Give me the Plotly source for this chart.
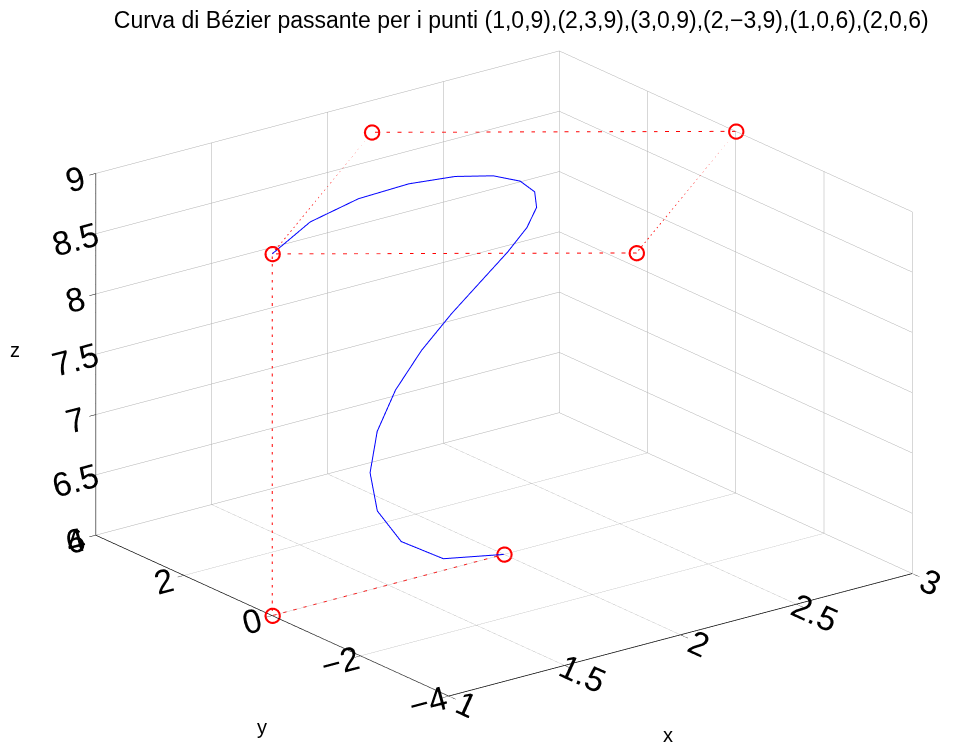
import plotly.graph_objects as go

# Control polygon (as drawn, with (1,0,9) revisited)
ctrl_x = [1, 2, 3, 2, 1, 1, 2]
ctrl_y = [0, 3, 0, -3, 0, 0, 0]
ctrl_z = [9, 9, 9, 9, 9, 6, 6]

# Bezier curve samples (21 points)
curve_x = [1.0, 1.295364, 1.565705, 1.793154, 1.96672, 2.0813, 2.136745, 2.137,
           2.08928, 2.003309, 1.890625, 1.763925, 1.63648, 1.521598, 1.432145,
           1.380129, 1.37632, 1.429964, 1.548505, 1.737406, 2.0]
curve_y = [0.0, 0.689973, 1.019142, 1.073646, 0.933888, 0.672363, 0.351918, 0.02451,
           -0.269568, -0.501993, -0.65625, -0.726972, -0.718848, -0.645021, -0.525042,
           -0.382323, -0.241152, -0.123198, -0.043578, -0.006424, 0.0]
curve_z = [9.0, 8.999995, 8.999835, 8.998806, 8.9952, 8.986083, 8.967195, 8.933034,
           8.87712, 8.792406, 8.671875, 8.509296, 8.30016, 8.04276, 7.739475,
           7.398192, 7.03392, 6.670545, 6.342795, 6.098322, 6.0]

x_ticks = [1, 1.5, 2, 2.5, 3]
y_ticks = [-4, -2, 0, 2, 4]
z_ticks = [6, 6.5, 7, 7.5, 8, 8.5, 9]

title_text = "Curva di Bézier passante per i punti (1,0,9),(2,3,9),(3,0,9),(2,−3,9),(1,0,6),(2,0,6)"

FONT = "Liberation Sans"

fig = go.Figure()
fig.add_trace(go.Scatter3d(
    x=ctrl_x, y=ctrl_y, z=ctrl_z, mode="lines",
    line=dict(color="#ff0000", width=2, dash="dot"),
    showlegend=False, hoverinfo="skip"))
fig.add_trace(go.Scatter3d(
    x=curve_x, y=curve_y, z=curve_z, mode="lines",
    line=dict(color="#0000ff", width=2), showlegend=False, hoverinfo="skip"))
fig.add_trace(go.Scatter3d(
    x=ctrl_x, y=ctrl_y, z=ctrl_z, mode="markers",
    marker=dict(symbol="circle-open", size=9, color="#ff0000", line=dict(width=1.5, color="#ff0000")),
    showlegend=False, hoverinfo="skip"))

def ax(rng, ticks, ticklen=8):
    return dict(
        title=dict(text=""),
        range=rng, tickvals=ticks, ticktext=[("%g" % t).replace("-", "−") for t in ticks],
        showgrid=True, gridcolor="rgb(175,175,175)", gridwidth=1,
        showline=True, linecolor="black", linewidth=1.5,
        ticks="outside", ticklen=ticklen, tickcolor="black",
        tickfont=dict(family=FONT, size=20, color="black"),
        showbackground=False, zeroline=False, showspikes=False,
        mirror=False,
    )

scale = 1.56
eye_k = 3.0
axis_titles = [("x", 668, 735), ("y", 262, 727), ("z", 15, 350)]
fig.update_layout(
    width=960, height=747,
    paper_bgcolor="white", plot_bgcolor="white",
    margin=dict(l=0, r=0, t=0, b=0),
    title=dict(text=title_text, x=0.543, xanchor="center", y=0.973, yanchor="middle",
               font=dict(family=FONT, size=23, color="black")),
    scene=dict(
        domain=dict(x=[0.05, 1.0], y=[0.0, 1.0]),
        xaxis=ax([1, 3], x_ticks),
        yaxis=ax([-4, 4], y_ticks, 12),
        zaxis=ax([6, 9], z_ticks),
        aspectmode="manual", aspectratio=dict(x=1 * scale, y=1 * scale, z=0.662 * scale),
        camera=dict(
            eye=dict(x=-0.568 * eye_k, y=-0.746 * eye_k, z=0.347 * eye_k),
            center=dict(x=0, y=0, z=0),
            up=dict(x=0, y=0, z=1),
            projection=dict(type="orthographic")),
    ),
    annotations=[dict(text=t, x=px / 960, y=1 - py / 747, xref="paper", yref="paper",
                      showarrow=False, xanchor="center", yanchor="middle",
                      font=dict(family=FONT, size=20, color="black"))
                 for t, px, py in axis_titles],
)

fig.write_html("out.html")
